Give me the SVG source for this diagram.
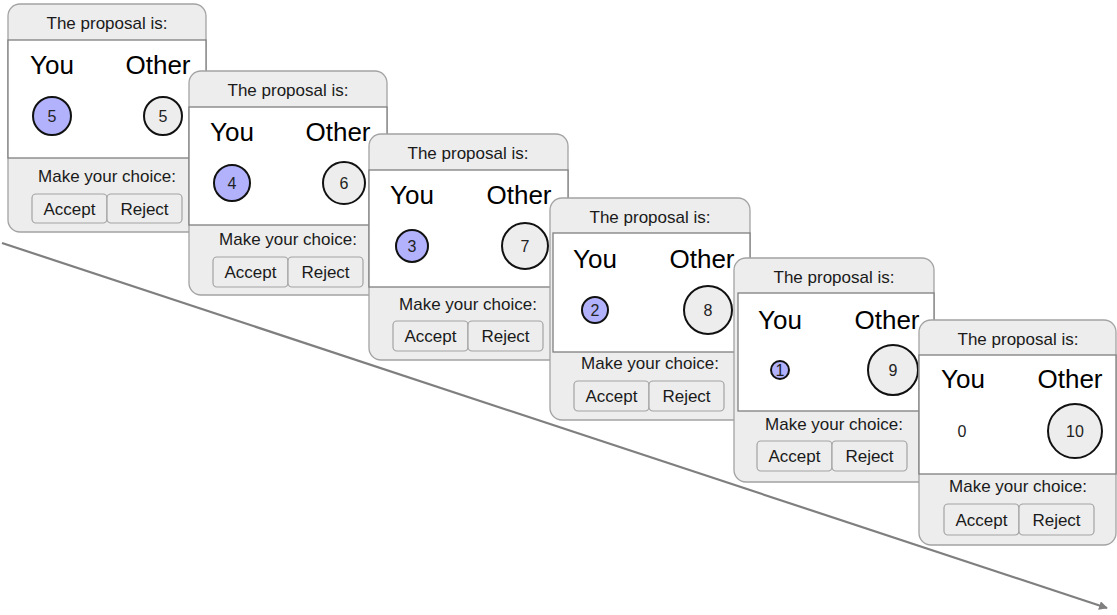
<svg xmlns="http://www.w3.org/2000/svg" width="1117" height="615" viewBox="0 0 1117 615">
<style>
.panel{fill:#ededed;stroke:#a3a3a3;stroke-width:1.3}
.white{fill:#ffffff;stroke:#7f7f7f;stroke-width:1.3}
.btn{fill:#ededed;stroke:#a3a3a3;stroke-width:1.2}
.t{font-family:"Liberation Sans",Arial,sans-serif;font-size:17px;fill:#1a1a1a;text-anchor:middle}
.big{font-family:"Liberation Sans",Arial,sans-serif;font-size:26px;fill:#000;text-anchor:middle}
.num{font-family:"Liberation Sans",Arial,sans-serif;font-size:16px;fill:#222;text-anchor:middle}
.you{fill:#b1b2fb;stroke:#111;stroke-width:2}
.oth{fill:#ededed;stroke:#111;stroke-width:2}
</style>
<defs>
<marker id="ah" viewBox="0 0 10 10" refX="9" refY="5" markerWidth="4" markerHeight="4" orient="auto" markerUnits="strokeWidth">
<path d="M0,0 L10,5 L0,10 z" fill="#7f7f7f"/>
</marker>
</defs>
<g id="connectors">
<line x1="2" y1="243" x2="1107" y2="608" stroke="#7f7f7f" stroke-width="2.2" marker-end="url(#ah)"/>
</g>
<g id="panel1" transform="translate(8,4)">
<rect class="panel" x="0" y="0" width="198" height="228" rx="12"/>
<rect class="white" x="0" y="36" width="198" height="118"/>
<text class="t" x="99" y="25">The proposal is:</text>
<text class="big" x="44" y="70">You</text>
<text class="big" x="150" y="70">Other</text>
<circle class="you" cx="44" cy="112" r="19"/><text class="num" x="44" y="118">5</text>
<circle class="oth" cx="155" cy="112" r="19"/><text class="num" x="155" y="118">5</text>
<text class="t" x="99" y="178">Make your choice:</text>
<rect class="btn" x="24" y="190" width="75" height="29" rx="4"/>
<rect class="btn" x="99" y="190" width="75" height="29" rx="4"/>
<text class="t" x="61.5" y="211">Accept</text>
<text class="t" x="136.5" y="211">Reject</text>
</g>
<g id="panel2" transform="translate(189,71)">
<rect class="panel" x="0" y="0" width="198" height="224" rx="12"/>
<rect class="white" x="0" y="36" width="198" height="118"/>
<text class="t" x="99" y="25">The proposal is:</text>
<text class="big" x="43" y="70">You</text>
<text class="big" x="149" y="70">Other</text>
<circle class="you" cx="43" cy="112" r="18"/><text class="num" x="43" y="118">4</text>
<circle class="oth" cx="155" cy="112" r="21"/><text class="num" x="155" y="118">6</text>
<text class="t" x="99" y="174">Make your choice:</text>
<rect class="btn" x="24" y="186" width="75" height="30" rx="4"/>
<rect class="btn" x="99" y="186" width="75" height="30" rx="4"/>
<text class="t" x="61.5" y="207">Accept</text>
<text class="t" x="136.5" y="207">Reject</text>
</g>
<g id="panel3" transform="translate(369,134)">
<rect class="panel" x="0" y="0" width="199" height="226" rx="12"/>
<rect class="white" x="0" y="36" width="199" height="117"/>
<text class="t" x="99" y="25">The proposal is:</text>
<text class="big" x="43" y="70">You</text>
<text class="big" x="150" y="70">Other</text>
<circle class="you" cx="43" cy="112" r="16"/><text class="num" x="43" y="118">3</text>
<circle class="oth" cx="156" cy="112" r="23"/><text class="num" x="156" y="118">7</text>
<text class="t" x="99" y="176">Make your choice:</text>
<rect class="btn" x="24" y="187" width="75" height="30" rx="4"/>
<rect class="btn" x="99" y="187" width="75" height="30" rx="4"/>
<text class="t" x="61.5" y="208">Accept</text>
<text class="t" x="136.5" y="208">Reject</text>
</g>
<g id="panel4" transform="translate(550,198)">
<rect class="panel" x="0" y="0" width="200" height="222" rx="12"/>
<rect class="white" x="3" y="35" width="197" height="119"/>
<text class="t" x="100" y="25">The proposal is:</text>
<text class="big" x="45" y="70">You</text>
<text class="big" x="152" y="70">Other</text>
<circle class="you" cx="45" cy="112" r="13"/><text class="num" x="45" y="118">2</text>
<circle class="oth" cx="158" cy="112" r="24"/><text class="num" x="158" y="118">8</text>
<text class="t" x="100" y="171">Make your choice:</text>
<rect class="btn" x="24" y="183" width="75" height="30" rx="4"/>
<rect class="btn" x="99" y="183" width="75" height="30" rx="4"/>
<text class="t" x="61.5" y="204">Accept</text>
<text class="t" x="136.5" y="204">Reject</text>
</g>
<g id="panel5" transform="translate(734,258)">
<rect class="panel" x="0" y="0" width="200" height="224" rx="12"/>
<rect class="white" x="4" y="35" width="196" height="118"/>
<text class="t" x="100" y="25">The proposal is:</text>
<text class="big" x="46" y="71">You</text>
<text class="big" x="153" y="71">Other</text>
<circle class="you" cx="46" cy="112" r="9"/><text class="num" x="46" y="118">1</text>
<circle class="oth" cx="159" cy="112" r="25"/><text class="num" x="159" y="118">9</text>
<text class="t" x="100" y="172">Make your choice:</text>
<rect class="btn" x="23" y="183" width="75" height="30" rx="4"/>
<rect class="btn" x="98" y="183" width="75" height="30" rx="4"/>
<text class="t" x="60.5" y="204">Accept</text>
<text class="t" x="135.5" y="204">Reject</text>
</g>
<g id="panel6" transform="translate(919,320)">
<rect class="panel" x="0" y="0" width="197" height="225" rx="12"/>
<rect class="white" x="0" y="35" width="197" height="119"/>
<text class="t" x="99" y="25">The proposal is:</text>
<text class="big" x="44" y="68">You</text>
<text class="big" x="151" y="68">Other</text>
<text class="num" x="43" y="117">0</text>
<circle class="oth" cx="156" cy="111" r="27"/><text class="num" x="156" y="117">10</text>
<text class="t" x="99" y="172">Make your choice:</text>
<rect class="btn" x="25" y="184" width="75" height="31" rx="4"/>
<rect class="btn" x="100" y="184" width="75" height="31" rx="4"/>
<text class="t" x="62.5" y="206">Accept</text>
<text class="t" x="137.5" y="206">Reject</text>
</g>
</svg>
